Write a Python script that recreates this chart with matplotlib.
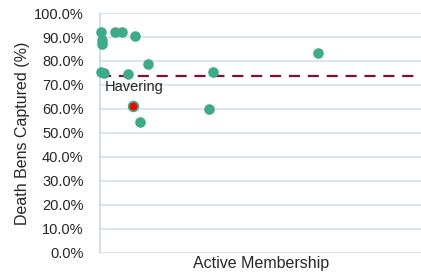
import matplotlib.pyplot as plt
import matplotlib.ticker as mticker

plt.rcParams['font.family'] = ['Liberation Sans', 'DejaVu Sans']

# active membership (arbitrary scale) and % of death benefits captured
membership = [20, 40, 70, 100, 200, 730, 1110, 1400, 1750, 2000, 2400, 5420, 5620, 10840]
captured = [75.5, 92.2, 86.9, 88.6, 74.9, 92.2, 92.2, 74.6, 90.6, 54.6, 78.8, 59.8, 75.3, 83.3]
highlight_x = [1660]
highlight_y = [61.1]
highlight_name = 'Havering'
average = 73.6

fig, ax = plt.subplots(figsize=(4.21, 2.77), dpi=100)
fig.subplots_adjust(left=0.238, right=1.0, bottom=0.087, top=0.953)

green = '#3FAA88'
ax.scatter(membership, captured, s=58, color=green, zorder=3, clip_on=False, linewidths=0)
ax.scatter(highlight_x, highlight_y, s=48, color='red', edgecolors=green, linewidths=1.3, zorder=4)
ax.axhline(average, color='#7B1035', lw=1.6, dashes=(5, 3.5), zorder=2)
ax.text(highlight_x[0] - 1420, highlight_y[0] + 8.1, highlight_name, fontsize=10.5, va='center', ha='left',
        color='#262626')

ax.set_xlim(0, 16000)
ax.set_ylim(0, 100)
ax.yaxis.set_major_locator(mticker.MultipleLocator(10))
ax.yaxis.set_major_formatter(mticker.FuncFormatter(lambda v, p: f'{v:.1f}%'))
ax.set_xticks([])
ax.tick_params(axis='y', length=0, labelsize=10.5, pad=12, colors='#262626')
ax.grid(axis='y', color='#D6E2EE', lw=1.2, zorder=0)
ax.set_axisbelow(True)
for s in ['top', 'right', 'bottom']:
    ax.spines[s].set_visible(False)
ax.spines['left'].set_color('#C9DAEA')
ax.spines['left'].set_linewidth(1.2)

ax.set_ylabel('Death Bens Captured (%)', fontsize=11.5, color='#262626', labelpad=3)
ax.set_xlabel('Active Membership', fontsize=11.5, color='#262626', labelpad=2)

fig.savefig('out.png')
